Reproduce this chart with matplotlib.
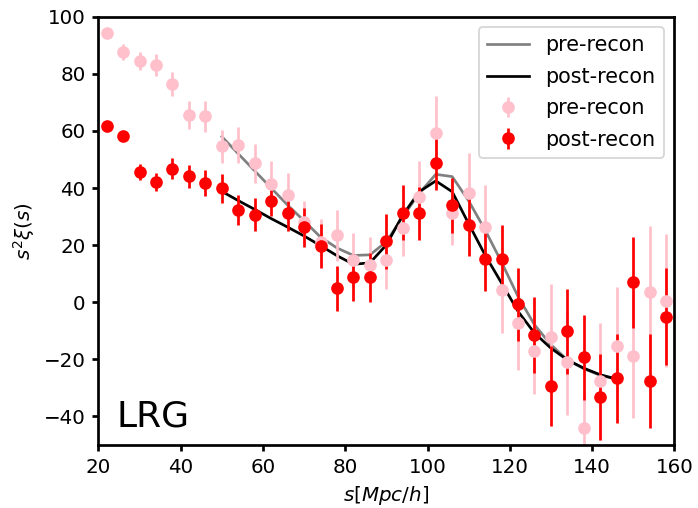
import numpy as np
import matplotlib
matplotlib.use("Agg")
import matplotlib.pyplot as plt

# bin centres
s = np.arange(22, 160, 4)

# measured s^2 xi(s), pre and post reconstruction
pre_xi = [94.4, 87.6, 84.6, 83.1, 76.6, 65.6, 65.2, 54.7, 55.2, 48.6, 41.5, 37.6,
          28.0, 21.0, 23.4, 14.8, 12.9, 14.8, 25.9, 36.8, 59.2, 31.4, 38.4, 26.2,
          4.3, -7.1, -17.2, -12.0, -21.1, -44.0, -27.7, -15.5, -19.0, 3.6, 0.6]
pre_err = [1.0, 2.8, 3.2, 3.7, 4.2, 4.8, 5.4, 5.8, 6.3, 6.8, 8.0, 7.7,
           7.5, 8.0, 9.0, 9.5, 10.0, 10.0, 9.7, 12.7, 13.0, 11.4, 14.0, 15.0,
           15.0, 16.6, 15.0, 18.4, 18.3, 12.0, 20.6, 21.0, 21.6, 23.0, 23.3]
post_xi = [61.6, 58.2, 45.5, 42.0, 46.8, 44.1, 41.7, 39.9, 32.3, 30.6, 35.6, 31.2,
           26.2, 19.7, 4.9, 8.7, 8.7, 21.3, 31.4, 31.1, 48.7, 33.9, 27.1, 15.2,
           15.2, -0.7, -11.5, -29.5, -10.2, -19.3, -33.1, -26.7, 7.0, -27.7, -5.0]
post_err = [1.5, 1.8, 2.8, 3.2, 3.6, 4.0, 4.6, 5.0, 5.2, 5.8, 5.5, 6.4,
            6.9, 7.6, 7.9, 8.2, 8.6, 9.7, 9.5, 9.4, 9.3, 9.5, 11.0, 11.4,
            12.0, 12.8, 13.3, 14.0, 15.0, 15.0, 15.0, 15.5, 16.0, 16.5, 17.0]

# best-fit model curves
s_model = np.arange(50, 147, 4)
pre_model = [58.0, 52.0, 46.0, 40.0, 34.0, 28.5, 22.8, 19.0, 16.4, 16.6, 21.2, 30.0,
             38.2, 44.8, 44.0, 35.5, 25.3, 14.0, 2.0, -7.9, -14.9, -20.2, -23.3, -25.6, -27.0]
post_model = [38.8, 35.6, 32.5, 29.3, 26.3, 23.2, 19.8, 16.3, 13.3, 13.8, 20.1, 30.6,
              38.7, 42.5, 38.7, 27.5, 16.5, 6.7, -3.2, -10.8, -16.1, -20.2, -23.1, -25.4, -26.9]

fig = plt.figure(figsize=(5.37, 3.908), dpi=130)
ax = fig.add_axes([0.141, 0.124, 0.825, 0.843])

ax.plot(s_model, pre_model, color='grey', label='pre-recon')
ax.plot(s_model, post_model, color='black', label='post-recon')
ax.errorbar(s, pre_xi, yerr=pre_err, fmt='o', color='pink', elinewidth=1.5, label='pre-recon')
ax.errorbar(s, post_xi, yerr=post_err, fmt='o', color='red', elinewidth=1.5, label='post-recon')

ax.text(24.5, -43.5, 'LRG', fontsize=20)

ax.set_xlim(20, 160)
ax.set_ylim(-50, 100)
ax.set_xlabel(r'$s[Mpc/h]$', fontsize=11)
ax.set_ylabel(r'$s^2\xi(s)$', fontsize=11)
for sp in ax.spines.values():
    sp.set_linewidth(1.5)
ax.tick_params(width=1.5, labelsize=11)
ax.legend(loc='upper right', fontsize=11.5, labelspacing=0.55)

fig.savefig('out.png', dpi=130)
